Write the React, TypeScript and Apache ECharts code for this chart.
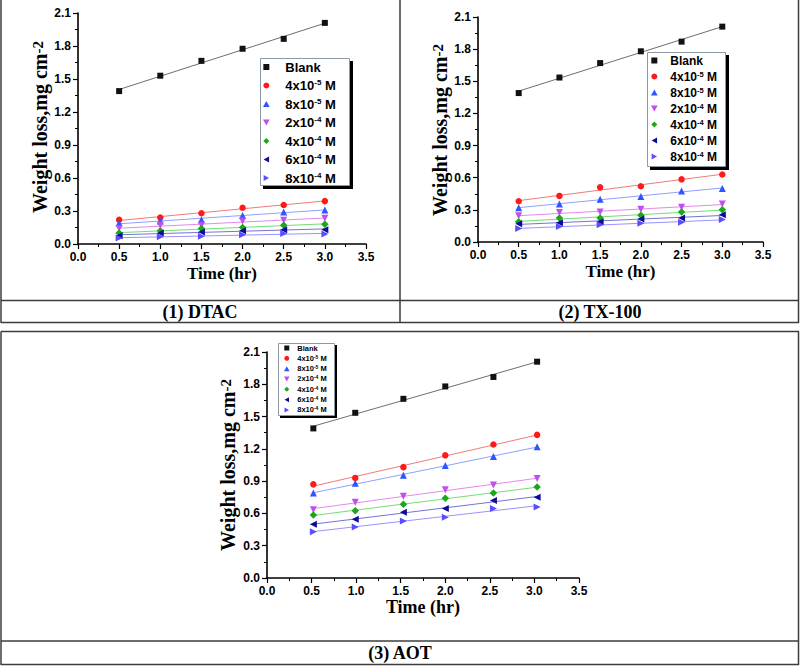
import React, { useEffect, useRef } from "react";
import * as echarts from "echarts";

// ---------- data ----------
const times = [0.5, 1.0, 1.5, 2.0, 2.5, 3.0];
const timesAOT = [0.52, 0.99, 1.53, 2.0, 2.54, 3.03];

const legendNames = [
  "Blank",
  "4x10{s|-5} M",
  "8x10{s|-5} M",
  "2x10{s|-4} M",
  "4x10{s|-4} M",
  "6x10{s|-4} M",
  "8x10{s|-4} M",
];

const xTicks = [0, 3.5, 0.5];
const yTicks = [0, 2.1, 0.3];

// (1) DTAC
const dtacBlank = [1.39, 1.53, 1.665, 1.775, 1.865, 2.01];
const dtac4e5 = [0.22, 0.24, 0.28, 0.33, 0.355, 0.39];
const dtac8e5 = [0.19, 0.21, 0.22, 0.26, 0.29, 0.31];
const dtac2e4 = [0.14, 0.17, 0.17, 0.21, 0.215, 0.235];
const dtac4e4 = [0.1, 0.12, 0.14, 0.15, 0.17, 0.18];
const dtac6e4 = [0.075, 0.1, 0.11, 0.12, 0.13, 0.13];
const dtac8e4 = [0.055, 0.065, 0.07, 0.085, 0.095, 0.09];

// (2) TX-100
const txBlank = [1.39, 1.535, 1.67, 1.78, 1.87, 2.01];
const tx4e5 = [0.38, 0.43, 0.51, 0.52, 0.585, 0.63];
const tx8e5 = [0.32, 0.355, 0.4, 0.425, 0.475, 0.5];
const tx2e4 = [0.245, 0.275, 0.28, 0.305, 0.325, 0.355];
const tx4e4 = [0.19, 0.225, 0.225, 0.25, 0.28, 0.3];
const tx6e4 = [0.17, 0.18, 0.19, 0.215, 0.225, 0.255];
const tx8e4 = [0.125, 0.145, 0.16, 0.175, 0.185, 0.21];

// (3) AOT
const aotBlank = [1.39, 1.535, 1.665, 1.78, 1.868, 2.01];
const aot4e5 = [0.87, 0.93, 1.03, 1.14, 1.24, 1.33];
const aot8e5 = [0.79, 0.88, 0.955, 1.045, 1.13, 1.22];
const aot2e4 = [0.635, 0.705, 0.76, 0.82, 0.865, 0.925];
const aot4e4 = [0.585, 0.625, 0.685, 0.74, 0.79, 0.845];
const aot6e4 = [0.5, 0.545, 0.61, 0.645, 0.72, 0.75];
const aot8e4 = [0.43, 0.475, 0.53, 0.565, 0.645, 0.66];

const panelTitles = ["(1) DTAC", "(2) TX-100", "(3) AOT"];

// ---------- styles ----------
const markerColors = ["#111111", "#ff1a1a", "#2f55ff", "#c04ef0", "#1aa81a", "#0c0c9c", "#5a4cff"];
const fitColors = ["#6e6e6e", "#f27a7a", "#8ea0ff", "#e28ae8", "#72de72", "#7474d4", "#9c92ff"];
const symbols = [
  "path://M0,0 L10,0 L10,10 L0,10 Z",
  "circle",
  "path://M5,0 L10,9 L0,9 Z",
  "path://M0,0 L10,0 L5,9 Z",
  "path://M5,0 L10,5 L5,10 L0,5 Z",
  "path://M9,0 L9,10 L0,5 Z",
  "path://M0,0 L0,10 L9,5 Z",
];
const symbolSizes = [6, 6.5, 7, 7, 7.5, 7, 7];

const SANS = 'Arial, "Liberation Sans", sans-serif';
const SERIF = '"Times New Roman", "Liberation Serif", serif';

function linFit(xs: number[], ys: number[]) {
  const n = xs.length;
  const mx = xs.reduce((a, b) => a + b, 0) / n;
  const my = ys.reduce((a, b) => a + b, 0) / n;
  let sxy = 0;
  let sxx = 0;
  for (let i = 0; i < n; i++) {
    sxy += (xs[i] - mx) * (ys[i] - my);
    sxx += (xs[i] - mx) * (xs[i] - mx);
  }
  const b = sxy / sxx;
  const a = my - b * mx;
  return [
    [xs[0], a + b * xs[0]],
    [xs[n - 1], a + b * xs[n - 1]],
  ];
}

const panels = [
  {
    xs: times,
    sets: [dtacBlank, dtac4e5, dtac8e5, dtac2e4, dtac4e4, dtac6e4, dtac8e4],
    grid: { left: 78, top: 13, width: 288, height: 231 },
    legend: { left: 260, top: 58, pad: [2, 2, 0, 3], iw: 28, ih: 6, gap: 4.5, fs: 13, lh: 14, sfs: 8, sh: 3 },
    box: { x: 260, y: 58, w: 89, h: 127 },
    yName: { x: 40, y: 127, fs: 20 },
    xNameGap: 21,
    xNameFs: 17,
  },
  {
    xs: times,
    sets: [txBlank, tx4e5, tx8e5, tx2e4, tx4e4, tx6e4, tx8e4],
    grid: { left: 478, top: 17, width: 285, height: 225 },
    legend: { left: 647, top: 52, pad: [2, 2, 1, 4], iw: 22, ih: 6, gap: 3, fs: 12, lh: 13, sfs: 7.5, sh: 3 },
    box: { x: 647, y: 52, w: 78, h: 114 },
    yName: { x: 440, y: 130, fs: 20 },
    xNameGap: 21,
    xNameFs: 17,
  },
  {
    xs: timesAOT,
    sets: [aotBlank, aot4e5, aot8e5, aot2e4, aot4e4, aot6e4, aot8e4],
    grid: { left: 267, top: 352, width: 312, height: 226 },
    legend: { left: 278, top: 343, pad: [1, 2, 1, 6], iw: 11, ih: 5, gap: 2.33, fs: 7.5, lh: 8, sfs: 5, sh: 2 },
    box: { x: 278, y: 343, w: 56, h: 72 },
    yName: { x: 228, y: 465, fs: 20 },
    xNameGap: 20,
    xNameFs: 18,
  },
];

function seg(x1: number, y1: number, x2: number, y2: number, stroke: string, lineWidth: number) {
  return {
    type: "line",
    silent: true,
    shape: { x1, y1, x2, y2 },
    style: { stroke, lineWidth },
  };
}

function buildOption() {
  const grids: any[] = [];
  const xAxes: any[] = [];
  const yAxes: any[] = [];
  const legends: any[] = [];
  const series: any[] = [];
  const graphics: any[] = [];

  panels.forEach((p, pi) => {
    grids.push({ ...p.grid, containLabel: false });
    const axisCommon = {
      axisLine: { show: true, onZero: false, lineStyle: { color: "#000", width: 1.6 } },
      axisTick: { show: true, inside: false, length: 5, lineStyle: { color: "#000", width: 1.2 } },
      minorTick: { show: true, splitNumber: 2, length: 3, lineStyle: { color: "#000", width: 1 } },
      splitLine: { show: false },
      axisLabel: {
        color: "#000",
        fontFamily: SANS,
        fontWeight: "bold",
        fontSize: 12,
        formatter: (v: number) => v.toFixed(1),
      },
    };
    xAxes.push({
      ...axisCommon,
      type: "value",
      gridIndex: pi,
      min: xTicks[0],
      max: xTicks[1],
      interval: xTicks[2],
      axisLabel: { ...axisCommon.axisLabel, margin: 7 },
      name: "Time (hr)",
      nameLocation: "middle",
      nameGap: p.xNameGap,
      nameTextStyle: { fontFamily: SERIF, fontWeight: "bold", fontSize: p.xNameFs, color: "#000" },
    });
    yAxes.push({
      ...axisCommon,
      type: "value",
      gridIndex: pi,
      min: yTicks[0],
      max: yTicks[1],
      interval: yTicks[2],
      axisLabel: { ...axisCommon.axisLabel, margin: 7 },
    });

    const L = p.legend;
    legends.push({
      show: true,
      orient: "vertical",
      left: L.left,
      top: L.top,
      padding: L.pad,
      itemWidth: L.iw,
      itemHeight: L.ih,
      itemGap: L.gap,
      selectedMode: false,
      symbolKeepAspect: true,
      backgroundColor: "transparent",
      borderWidth: 0,
      z: 20,
      data: legendNames,
      textStyle: {
        color: "#000",
        fontFamily: SANS,
        fontWeight: "bold",
        fontSize: L.fs,
        lineHeight: L.lh,
        rich: {
          s: {
            color: "#000",
            fontFamily: SANS,
            fontWeight: "bold",
            fontSize: L.sfs,
            lineHeight: L.sfs,
            verticalAlign: "top",
          },
        },
      },
    });

    // legend frame (white ground, grey border, black drop shadow) as a custom series
    const B = p.box;
    const s = L.sh;
    series.push({
      type: "custom",
      name: `frame-${pi}`,
      xAxisIndex: pi,
      yAxisIndex: pi,
      silent: true,
      z: 10,
      clip: false,
      data: [[0, 0]],
      renderItem: () => ({
        type: "group",
        children: [
          {
            type: "rect",
            shape: { x: B.x + s, y: B.y + s, width: B.w + 1, height: B.h + 1 },
            style: { fill: "#000000" },
          },
          {
            type: "rect",
            shape: { x: B.x + 0.5, y: B.y + 0.5, width: B.w, height: B.h },
            style: { fill: "#ffffff", stroke: "#8c9aa6", lineWidth: 1 },
          },
        ],
      }),
    });

    p.sets.forEach((ys, si) => {
      series.push({
        type: "line",
        name: `fit-${pi}-${si}`,
        xAxisIndex: pi,
        yAxisIndex: pi,
        data: linFit(p.xs, ys),
        symbol: "none",
        showSymbol: false,
        silent: true,
        z: 1,
        lineStyle: { color: fitColors[si], width: 1 },
      });
      series.push({
        type: "scatter",
        name: legendNames[si],
        xAxisIndex: pi,
        yAxisIndex: pi,
        data: p.xs.map((x, k) => [x, ys[k]]),
        symbol: symbols[si],
        symbolSize: symbolSizes[si],
        z: 2,
        itemStyle: { color: markerColors[si], opacity: 1 },
      });
    });

    graphics.push({
      type: "text",
      x: p.yName.x,
      y: p.yName.y,
      rotation: Math.PI / 2,
      style: {
        text: "Weight loss,mg cm{s|-2}",
        fill: "#000",
        font: `bold ${p.yName.fs}px ${SERIF}`,
        align: "center",
        verticalAlign: "middle",
        rich: {
          s: {
            fill: "#000",
            font: `bold 15px ${SERIF}`,
            lineHeight: 12,
            verticalAlign: "top",
          },
        },
      },
    });
  });

  const frame = "#3c3c3c";
  // top box
  graphics.push(seg(1, 0, 1, 323, frame, 1.5));
  graphics.push(seg(798.5, 0, 798.5, 323, frame, 1.5));
  graphics.push(seg(400, 0, 400, 323, frame, 1.5));
  graphics.push(seg(1, 300.5, 799, 300.5, frame, 1.5));
  graphics.push(seg(1, 322.5, 799, 322.5, frame, 1.5));
  // bottom box
  graphics.push(seg(1, 331.5, 799, 331.5, frame, 1.5));
  graphics.push(seg(1, 331.5, 1, 665, frame, 1.5));
  graphics.push(seg(798.5, 331.5, 798.5, 665, frame, 1.5));
  graphics.push(seg(1, 641, 799, 641, frame, 1.5));
  graphics.push(seg(1, 664.5, 799, 664.5, frame, 1.5));

  const titlePos = [
    [200, 311.5],
    [600, 311.5],
    [400, 653],
  ];
  panelTitles.forEach((t, i) => {
    graphics.push({
      type: "text",
      x: titlePos[i][0],
      y: titlePos[i][1],
      style: {
        text: t,
        fill: "#000",
        font: `bold 18px ${SERIF}`,
        align: "center",
        verticalAlign: "middle",
      },
    });
  });

  return {
    animation: false,
    backgroundColor: "#ffffff",
    grid: grids,
    xAxis: xAxes,
    yAxis: yAxes,
    legend: legends,
    series,
    graphic: { elements: graphics },
  };
}

export default function App() {
  const ref = useRef<HTMLDivElement>(null);
  useEffect(() => {
    if (!ref.current) return;
    const chart = echarts.init(ref.current, undefined, { renderer: "svg" });
    chart.setOption(buildOption() as any);
    return () => chart.dispose();
  }, []);
  return (
    <div
      ref={ref}
      style={{ position: "absolute", left: 0, top: 0, width: 800, height: 668, background: "#fff" }}
    />
  );
}
